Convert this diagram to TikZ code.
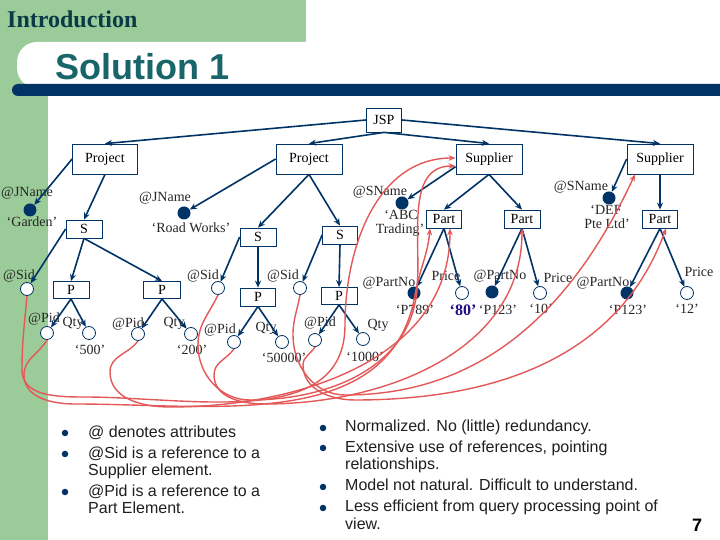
\documentclass[tikz,border=0pt]{standalone}
\usepackage{fontspec}
\setmainfont{Liberation Serif}
\newfontfamily\arial{Liberation Sans}
\usetikzlibrary{arrows.meta,calc}
\definecolor{gr}{RGB}{155,203,152}
\definecolor{navyc}{RGB}{0,51,102}
\definecolor{rd}{RGB}{228,88,88}
\definecolor{teal1}{RGB}{25,102,106}
\definecolor{intro}{RGB}{10,58,72}
\definecolor{eighty}{RGB}{35,10,135}
\begin{document}
\begin{tikzpicture}[x=1pt,y=1pt,
 box/.style={draw=navyc, line width=0.8pt, fill=white, inner sep=0, font=\fontsize{14}{15}\selectfont},
 dot/.style={circle, fill=navyc, minimum size=13pt, inner sep=0},
 odot/.style={circle, draw=navyc, line width=0.8pt, fill=white, minimum size=13pt, inner sep=0},
 lbl/.style={font=\fontsize{14}{15}\selectfont, text=black!85, inner sep=0},
 arr/.style={draw=navyc, line width=1.6pt, -{Stealth[length=7pt,width=6pt]}},
 refc/.style={draw=rd, line width=1.4pt, -{Stealth[length=7pt,width=5.5pt]}},
 bul/.style={font=\arial\fontsize{16}{17}\selectfont, anchor=base west, inner sep=0, text=black!88},
 bdot/.style={circle, fill=navyc, minimum size=6.5pt, inner sep=0},
]
\useasboundingbox (0,0) rectangle (720,540);
\begin{scope}
\clip (0,0) rectangle (720,540);
\fill[white] (0,0) rectangle (720,540);
\fill[gr] (0,0) rectangle (48,540);
\fill[gr] (0,498) rectangle (306,540);
\fill[white, rounded corners=20pt] (17,452) rectangle (760,498);
\fill[navyc, rounded corners=6pt] (12,444) rectangle (760,456);
\end{scope}
\node[anchor=west, font=\fontsize{24}{26}\selectfont\bfseries, text=intro, inner sep=0] (intro) at (7,521) {Introduction};
\node[anchor=west, font=\arial\fontsize{36}{40}\selectfont\bfseries, text=teal1, inner sep=0] (title) at (55,473) {Solution 1};

% boxes
\node[box, minimum width=35pt, minimum height=24pt] (jsp) at (384,420) {JSP};
\node[box, minimum width=65pt, minimum height=30pt] (proj1) at (105,381) {Project};
\node[box, minimum width=66pt, minimum height=30pt] (proj2) at (309,381) {Project};
\node[box, minimum width=66pt, minimum height=30pt] (sup1) at (489,381) {Supplier};
\node[box, minimum width=66pt, minimum height=30pt] (sup2) at (660,381) {Supplier};
\node[box, minimum width=36pt, minimum height=18pt] (s1) at (84,311) {S};
\node[box, minimum width=36pt, minimum height=18pt] (s2) at (258,303) {S};
\node[box, minimum width=35pt, minimum height=18pt] (s3) at (340,305) {S};
\node[box, minimum width=35pt, minimum height=18pt] (part1) at (444,321) {Part};
\node[box, minimum width=36pt, minimum height=18pt] (part2) at (522,321) {Part};
\node[box, minimum width=35pt, minimum height=18pt] (part3) at (660,321) {Part};
\node[box, minimum width=36pt, minimum height=17pt] (p1) at (71,250) {P};
\node[box, minimum width=37pt, minimum height=17pt] (p2) at (162,250) {P};
\node[box, minimum width=35pt, minimum height=18pt] (p3) at (258,243) {P};
\node[box, minimum width=36pt, minimum height=17pt] (p4) at (339,244) {P};

% dots
\node[dot] (jn1) at (30,330) {};
\node[dot] (jn2) at (184,327) {};
\node[dot] (sn1) at (402,337) {};
\node[dot] (sn2) at (609,342) {};
\node[dot] (pn1) at (414,247) {};
\node[dot] (pn2) at (492,248) {};
\node[dot] (pn3) at (627,247) {};
\node[odot] (sid1) at (27,251) {};
\node[odot] (sid2) at (218,252) {};
\node[odot] (sid3) at (300,252) {};
\node[odot] (pr1) at (462,247) {};
\node[odot] (pr2) at (540,247) {};
\node[odot] (pr3) at (687,247) {};
\node[odot] (pid1) at (47,207) {};
\node[odot] (q1) at (89,207) {};
\node[odot] (pid2) at (138,206) {};
\node[odot] (q2) at (191,206) {};
\node[odot] (pid3) at (234,198) {};
\node[odot] (q3) at (282,198) {};
\node[odot] (pid4) at (315,200) {};
\node[odot] (q4) at (363,201) {};

% labels
\node[lbl] (ljn1) at (27,347) {@JName};
\node[lbl] (lgar) at (32,318) {‘Garden’};
\node[lbl] (ljn2) at (165,342) {@JName};
\node[lbl] (lrw) at (191,312) {‘Road Works’};
\node[lbl] (lsn1) at (380,348) {@SName};
\node[lbl] (labc) at (401,325) {‘ABC};
\node[lbl] (ltr) at (400,310) {Trading’};
\node[lbl] (lsn2) at (581,353) {@SName};
\node[lbl] (ldef) at (606,330) {‘DEF};
\node[lbl] (lpte) at (607,316) {Pte Ltd’};
\node[lbl] (lsid1) at (19,264) {@Sid};
\node[lbl] (lsid2) at (203,264) {@Sid};
\node[lbl] (lsid3) at (283,264) {@Sid};
\node[lbl] (lpn1) at (389,257) {@PartNo};
\node[lbl] (lpr1) at (446,264) {Price};
\node[lbl] (lv1) at (415,230) {‘P789’};
\node[lbl, font=\fontsize{16}{17}\selectfont\bfseries, text=eighty] (lv80) at (463,230) {‘80’};
\node[lbl] (lpn2) at (500,264) {@PartNo};
\node[lbl] (lpr2) at (558,262) {Price};
\node[lbl] (lv2) at (498,230) {‘P123’};
\node[lbl] (lv10) at (541,231) {‘10’};
\node[lbl] (lpn3) at (603,257) {@PartNo};
\node[lbl] (lpr3) at (699,268) {Price};
\node[lbl] (lv3) at (628,230) {‘P123’};
\node[lbl] (lv12) at (687,231) {‘12’};
\node[lbl] (lpid1) at (44,221) {@Pid};
\node[lbl] (lq1) at (73,217) {Qty};
\node[lbl] (lv500) at (90,190) {‘500’};
\node[lbl] (lpid2) at (128,216) {@Pid};
\node[lbl] (lq2) at (174,217) {Qty};
\node[lbl] (lv200) at (192,190) {‘200’};
\node[lbl] (lpid3) at (220,210) {@Pid};
\node[lbl] (lq3) at (266,212) {Qty};
\node[lbl] (lv50000) at (284,182) {‘50000’};
\node[lbl] (lpid4) at (320,217) {@Pid};
\node[lbl] (lq4) at (378,215) {Qty};
\node[lbl] (lv1000) at (365,183) {‘1000’};

% tree arrows
\draw[arr] (jsp.west) -- (proj1.north);
\draw[arr] (jsp.south) -- (proj2.north);
\draw[arr] (jsp.south) -- (sup1.north);
\draw[arr] (jsp.east) -- (sup2.north);
\draw[arr] (proj1.west) -- (jn1);
\draw[arr] (proj1.south) -- (s1.north);
\draw[arr] (proj2.west) -- (jn2);
\draw[arr] (proj2.south) -- (s2.north);
\draw[arr] (proj2.south) -- (s3.north);
\draw[arr] ($(sup1.west)!0.5!(sup1.south west)$) -- (sn1);
\draw[arr] (sup1.south) -- (part1.north);
\draw[arr] (sup1.south) -- (part2.north);
\draw[arr] (sup2.west) -- (sn2);
\draw[arr] (sup2.south) -- (part3.north);
\draw[arr] (s1.west) -- (sid1);
\draw[arr] (s1.south) -- (p1.north);
\draw[arr] (s1.south) -- (p2.north);
\draw[arr] (s2.west) -- (sid2);
\draw[arr] (s2.south) -- (p3.north);
\draw[arr] (s3.west) -- (sid3);
\draw[arr] (s3.south) -- (p4.north);
\draw[arr] (part1.south) -- (pn1);
\draw[arr] (part1.south) -- (pr1);
\draw[arr] (part2.south) -- (pn2);
\draw[arr] (part2.south) -- (pr2);
\draw[arr] (part3.south) -- (pn3);
\draw[arr] (part3.south) -- (pr3);
\draw[arr] (p1.south) -- (pid1);
\draw[arr] (p1.south) -- (q1);
\draw[arr] (p2.south) -- (pid2);
\draw[arr] (p2.south) -- (q2);
\draw[arr] (p3.south) -- (pid3);
\draw[arr] (p3.south) -- (q3);
\draw[arr] (p4.south) -- (pid4);
\draw[arr] (p4.south) -- (q4);

% reference curves
\draw[refc] (sid1.south) to[out=-95,in=90] (22,170) to[out=-90,in=180] (85,143) to[out=0,in=-90] (345,215) to[out=90,in=180] ([yshift=1pt]sup1.west);
\draw[refc] (sid2.south) to[out=-115,in=90] (198,195) to[out=-90,in=180] (250,140) to[out=0,in=-95] (417,250) to[out=85,in=180] ([yshift=-7pt]sup1.west);
\draw[refc] (pid1.south) to[out=-120,in=90] (24,165) to[out=-90,in=180] (75,136) to[out=0,in=-100] (415,245) to[out=80,in=-95] ([xshift=-14pt]part1.south);
\draw[refc] (pid2.south) to[out=-125,in=90] (110,168) to[out=-90,in=180] (170,133) to[out=0,in=-90] ([xshift=6pt]part1.south);
\draw[refc] (pid3.south) to[out=-125,in=90] (214,165) to[out=-90,in=180] (265,136) to[out=0,in=-90] (part2.south);
\draw[refc] (sid3.south) to[out=-100,in=90] (293,205) to[out=-90,in=180] (345,145) to[out=0,in=-115] ([xshift=-25pt]sup2.south);
\draw[refc] (pid4.south) to[out=-120,in=90] (303,175) to[out=-90,in=180] (355,140) to[out=0,in=-110] ([xshift=6pt]part3.south);

% bullets left
\node[bdot] (bl1) at (65,107) {};
\node[bdot] (bl2) at (65,86) {};
\node[bdot] (bl3) at (65,48) {};
\node[bul] (tl1) at (88,102) {@ denotes attributes};
\node[bul] (tl2a) at (88,81) {@Sid is a reference to a};
\node[bul] (tl2b) at (88,64) {Supplier element.};
\node[bul] (tl3a) at (88,43) {@Pid is a reference to a};
\node[bul] (tl3b) at (88,26) {Part Element.};
% bullets right
\node[bdot] (br1) at (323,112) {};
\node[bdot] (br2) at (323,92) {};
\node[bdot] (br3) at (323,53) {};
\node[bdot] (br4) at (323,32) {};
\node[bul] (tr1) at (345,108) {Normalized. No (little) redundancy.};
\node[bul] (tr2a) at (345,87) {Extensive use of references, pointing};
\node[bul] (tr2b) at (345,70) {relationships.};
\node[bul] (tr3) at (345,49) {Model not natural. Difficult to understand.};
\node[bul] (tr4a) at (345,28) {Less efficient from query processing point of};
\node[bul] (tr4b) at (345,10) {view.};
\node[font=\arial\fontsize{18}{20}\selectfont\bfseries, inner sep=0] (pg) at (697,15) {7};
\end{tikzpicture}
\end{document}
